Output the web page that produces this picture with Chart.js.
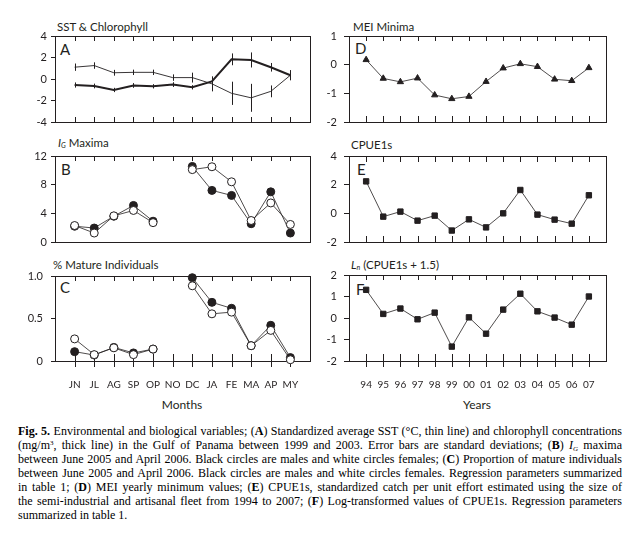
<!DOCTYPE html>
<html>
<head>
<meta charset="utf-8">
<script src="https://cdn.jsdelivr.net/npm/chart.js@4.4.0/dist/chart.umd.min.js"></script>
<style>
body { margin: 0; background: #fff; }
#page { position: relative; width: 635px; height: 544px; overflow: hidden; font-family: Lato, sans-serif; color: #231f20; }
canvas { position: absolute; left: 0; top: 0; }
.t { position: absolute; font-size: 11.5px; white-space: nowrap; line-height: 12px; }
.t i { font-style: italic; }
.t sub { font-size: 7px; position: relative; top: 1px; vertical-align: baseline; }
.letter { position: absolute; font-size: 15px; line-height: 15px; }
.axis { position: absolute; font-size: 12px; line-height: 14px; transform: translateX(-50%); }
.cap { position: absolute; left: 18px; width: 604px; font-family: "Liberation Serif", serif; font-size: 12px; line-height: 14px; text-align: justify; text-align-last: justify; color: #000; }
.cap.last { text-align-last: left; }
.cap b { font-weight: bold; }
.cap sup { font-size: 7px; vertical-align: baseline; position: relative; top: -4px; }
.cap sub { font-size: 7px; vertical-align: baseline; position: relative; top: 2px; }
</style>
</head>
<body>
<div id="page">
  <div class="t" style="left:57px;top:21px">SST &amp; Chlorophyll</div>
  <div class="t" style="left:58px;top:137px"><i>I</i><sub><i>G</i></sub> Maxima</div>
  <div class="t" style="left:53px;top:259px">% Mature Individuals</div>
  <div class="t" style="left:353px;top:21px">MEI Minima</div>
  <div class="t" style="left:351px;top:139px">CPUE1s</div>
  <div class="t" style="left:351px;top:259px"><i>L</i><sub><i>n</i></sub> (CPUE1s + 1.5)</div>

  <div class="letter" style="left:60px;top:42px">A</div>
  <div class="letter" style="left:61px;top:162px">B</div>
  <div class="letter" style="left:60px;top:280px">C</div>
  <div class="letter" style="left:355px;top:41px">D</div>
  <div class="letter" style="left:357px;top:162px">E</div>
  <div class="letter" style="left:356px;top:282px">F</div>

  <div class="axis" style="left:182px;top:398px">Months</div>
  <div class="axis" style="left:477px;top:398px">Years</div>

  <div class="cap" style="top:424px"><b>Fig. 5.</b> Environmental and biological variables; (<b>A</b>) Standardized average SST (°C, thin line) and chlorophyll concentrations</div>
  <div class="cap" style="top:438px">(mg/m<sup>3</sup>, thick line) in the Gulf of Panama between 1999 and 2003. Error bars are standard deviations; (<b>B</b>) <i>I<sub>G</sub></i> maxima</div>
  <div class="cap" style="top:452px">between June 2005 and April 2006. Black circles are males and white circles females; (<b>C</b>) Proportion of mature individuals</div>
  <div class="cap" style="top:466px">between June 2005 and April 2006. Black circles are males and white circles females. Regression parameters summarized</div>
  <div class="cap" style="top:480px">in table 1; (<b>D</b>) MEI yearly minimum values; (<b>E</b>) CPUE1s, standardized catch per unit effort estimated using the size of</div>
  <div class="cap" style="top:494px">the semi-industrial and artisanal fleet from 1994 to 2007; (<b>F</b>) Log-transformed values of CPUE1s. Regression parameters</div>
  <div class="cap last" style="top:508px">summarized in table 1.</div>
</div>
<script>
// month / year axes
const monthLabels = ['JN', 'JL', 'AG', 'SP', 'OP', 'NO', 'DC', 'JA', 'FE', 'MA', 'AP', 'MY'];
const yearLabels = ['94', '95', '96', '97', '98', '99', '00', '01', '02', '03', '04', '05', '06', '07'];

// A: standardized SST (thin) and chlorophyll (thick), with standard deviations
const sstMean = [1.1, 1.25, 0.58, 0.62, 0.62, 0.13, 0.13, -0.45, -1.33, -1.75, -1.15, 0.35];
const sstSd = [0.34, 0.3, 0.27, 0.25, 0.25, 0.3, 0.46, 0.7, 1.08, 1.3, 0.55, 0.47];
const chlMean = [-0.56, -0.65, -1.02, -0.6, -0.68, -0.52, -0.77, -0.22, 1.83, 1.77, 1.09, 0.35];
const chlSd = [0.24, 0.22, 0.2, 0.22, 0.2, 0.22, 0.2, 0.25, 0.55, 0.7, 0.4, 0.45];

// B: IG maxima
const maleIG = [2.2, 1.95, 3.6, 5.1, 2.9, null, 10.55, 7.2, 6.5, 2.55, 7.0, 1.25];
const femaleIG = [2.3, 1.25, 3.65, 4.4, 2.7, null, 10.1, 10.5, 8.4, 3.0, 5.45, 2.45];

// C: proportion of mature individuals
const maleMature = [0.11, 0.07, 0.16, 0.095, 0.14, null, 0.98, 0.69, 0.62, 0.18, 0.42, 0.04];
const femaleMature = [0.26, 0.075, 0.155, 0.075, 0.14, null, 0.885, 0.555, 0.575, 0.18, 0.36, 0.015];

// D, E, F: yearly series 1994-2007
const meiMin = [0.17, -0.48, -0.6, -0.47, -1.06, -1.19, -1.11, -0.59, -0.12, 0.03, -0.07, -0.51, -0.56, -0.11];
const cpue = [2.23, -0.23, 0.12, -0.51, -0.16, -1.2, -0.42, -0.98, 0.0, 1.63, -0.09, -0.44, -0.72, 1.26];
const lnCpue = [1.31, 0.19, 0.44, -0.06, 0.25, -1.33, 0.03, -0.73, 0.39, 1.13, 0.31, 0.02, -0.31, 1.0];

const ink = '#231f20';
const page = document.getElementById('page');
const pts = arr => arr.map((v, i) => ({ x: i + 1, y: v }));

// shrink any caption line that wraps until it fits on one line
document.querySelectorAll('.cap').forEach(el => {
  let size = 12;
  while (el.scrollHeight > 16 && size > 9) {
    size -= 0.1;
    el.style.fontSize = size + 'px';
  }
});

// frame + inward category ticks, drawn under the data
const frame = {
  id: 'frame',
  beforeDatasetsDraw(chart, args, opts) {
    if (!opts || !opts.n) return;
    const { ctx, chartArea: a, scales: { x } } = chart;
    ctx.save();
    ctx.strokeStyle = ink;
    ctx.lineWidth = 1;
    ctx.strokeRect(Math.round(a.left) + 0.5, Math.round(a.top) + 0.5, Math.round(a.right - a.left), Math.round(a.bottom - a.top));
    for (let i = 1; i <= opts.n; i++) {
      const px = Math.round(x.getPixelForValue(i)) + 0.5;
      ctx.beginPath();
      ctx.moveTo(px, a.top);
      ctx.lineTo(px, a.top + opts.top);
      ctx.moveTo(px, a.bottom - opts.up);
      ctx.lineTo(px, a.bottom + opts.down);
      ctx.stroke();
    }
    ctx.restore();
  }
};

const errorBars = {
  id: 'errorBars',
  beforeDatasetsDraw(chart, args, opts) {
    if (!opts || !opts.sets) return;
    const { ctx, scales: { x, y } } = chart;
    ctx.save();
    ctx.strokeStyle = ink;
    ctx.lineWidth = 1;
    opts.sets.forEach(s => s.mean.forEach((m, i) => {
      const px = Math.round(x.getPixelForValue(i + 1)) + 0.5;
      ctx.beginPath();
      ctx.moveTo(px, y.getPixelForValue(m + s.sd[i]));
      ctx.lineTo(px, y.getPixelForValue(m - s.sd[i]));
      ctx.stroke();
    }));
    ctx.restore();
  }
};

Chart.register(frame, errorBars);
Chart.defaults.font.family = 'Lato, sans-serif';
Chart.defaults.color = ink;

function series(values, opt) {
  return Object.assign({
    data: pts(values),
    borderColor: ink,
    borderWidth: 0.8,
    pointRadius: 4,
    pointBorderWidth: 1,
    pointBorderColor: ink,
    pointBackgroundColor: ink,
    tension: 0,
    spanGaps: false,
    clip: false
  }, opt);
}

function makePanel(cfg) {
  const a = cfg.area;
  const canvas = document.createElement('canvas');
  canvas.width = 635;
  canvas.height = 544;
  page.appendChild(canvas);
  const xH = cfg.labels ? 30 : 0;
  return new Chart(canvas, {
    type: 'line',
    data: { datasets: cfg.datasets },
    options: {
      responsive: false,
      animation: false,
      events: [],
      layout: {
        autoPadding: false,
        padding: { left: a[0] - cfg.yW, top: a[1], right: 635 - a[2], bottom: 544 - a[3] - xH }
      },
      plugins: {
        legend: { display: false },
        tooltip: { enabled: false },
        frame: cfg.ticks,
        errorBars: { sets: cfg.err }
      },
      scales: {
        x: {
          type: 'linear',
          min: 0,
          max: cfg.n + 1,
          display: !!cfg.labels,
          afterFit: s => { s.height = xH; },
          grid: { display: false },
          border: { display: false },
          ticks: {
            stepSize: 1, autoSkip: false, maxRotation: 0, padding: 10,
            font: { size: 10 },
            callback: v => cfg.labels ? (cfg.labels[v - 1] || '') : ''
          }
        },
        y: {
          min: cfg.y[0],
          max: cfg.y[1],
          afterFit: s => { s.width = cfg.yW; },
          border: { display: false },
          grid: { drawOnChartArea: false, color: ink, tickLength: cfg.tl },
          ticks: { stepSize: cfg.y[2], padding: cfg.pad, font: { size: 11 }, callback: cfg.yFmt || (v => v) }
        }
      }
    }
  });
}

// A
makePanel({
  area: [55, 36, 310, 122], yW: 55, tl: 4, pad: 4, n: 12, y: [-4, 4, 2],
  ticks: { n: 12, top: 5, up: 5, down: 0 },
  err: [{ mean: sstMean, sd: sstSd }, { mean: chlMean, sd: chlSd }],
  datasets: [
    series(sstMean, { borderWidth: 0.9, pointRadius: 0 }),
    series(chlMean, { borderWidth: 2, pointRadius: 0 })
  ]
});

// B
makePanel({
  area: [55, 156, 310, 242], yW: 55, tl: 4, pad: 4, n: 12, y: [0, 12, 4],
  ticks: { n: 12, top: 5, up: 0, down: 0 },
  datasets: [
    series(femaleIG, { pointBackgroundColor: '#fff' }),
    series(maleIG, {})
  ]
});

// C
makePanel({
  area: [55, 276, 310, 361], yW: 55, tl: 4, pad: 8, n: 12, y: [0, 1, 0.5],
  labels: monthLabels,
  yFmt: v => v === 0 ? '0' : v.toFixed(1),
  ticks: { n: 12, top: 5, up: 7, down: 6 },
  datasets: [
    series(femaleMature, { pointBackgroundColor: '#fff' }),
    series(maleMature, {})
  ]
});

// D
makePanel({
  area: [349, 36, 606, 122], yW: 40, tl: 5, pad: 7, n: 14, y: [-2, 1, 1],
  ticks: { n: 14, top: 5, up: 6, down: 0 },
  datasets: [series(meiMin, { pointStyle: 'triangle', pointRadius: 3.6 })]
});

// E
makePanel({
  area: [349, 156, 606, 242], yW: 40, tl: 5, pad: 7, n: 14, y: [-2, 4, 2],
  ticks: { n: 14, top: 6, up: 6, down: 0 },
  datasets: [series(cpue, { pointStyle: 'rect', pointRadius: 3.8 })]
});

// F
makePanel({
  area: [349, 275, 606, 361], yW: 40, tl: 5, pad: 7, n: 14, y: [-2, 2, 1],
  labels: yearLabels,
  ticks: { n: 14, top: 5, up: 7, down: 6 },
  datasets: [series(lnCpue, { pointStyle: 'rect', pointRadius: 3.8 })]
});
</script>
</body>
</html>
